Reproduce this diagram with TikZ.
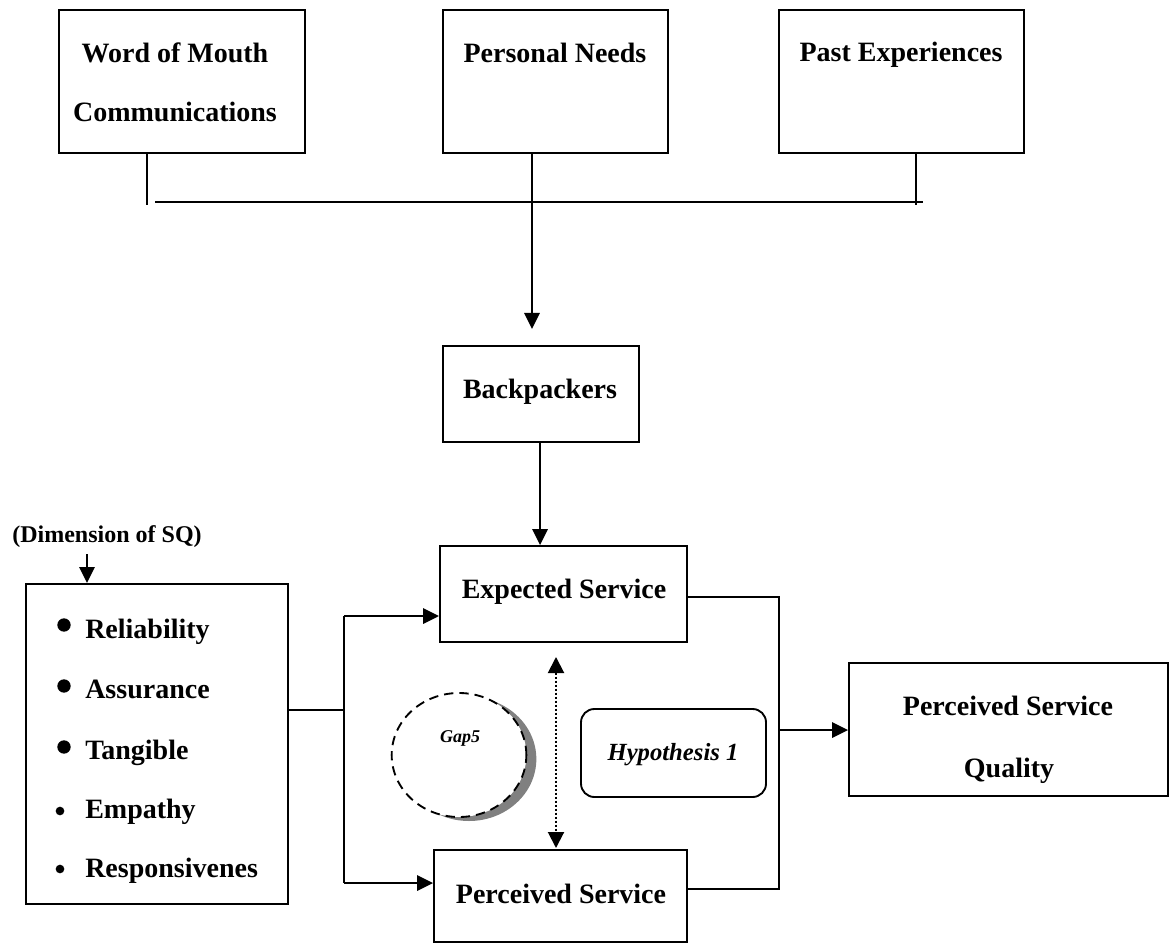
\documentclass[tikz,border=0pt]{standalone}
\usepackage{fontspec}
\setmainfont{Liberation Serif}
\usetikzlibrary{fit,shapes.geometric,shadows,arrows.meta}
\begin{document}
\begin{tikzpicture}[x=0.75pt,y=-0.75pt,
  box/.style={draw, line width=1.4pt, inner sep=0pt, rectangle},
  txt/.style={font=\fontsize{21}{25}\selectfont\bfseries, anchor=base, inner sep=0pt},
  itemtxt/.style={font=\fontsize{21}{25}\selectfont\bfseries, anchor=base west, inner sep=0pt},
  thinline/.style={line width=1pt},
  conn/.style={line width=1.6pt},
  arr/.style={line width=1.6pt, -{Triangle[length=12pt,width=11.5pt]}},
  bigdot/.style={circle, fill=black, inner sep=0pt, minimum size=10pt},
  smalldot/.style={circle, fill=black, inner sep=0pt, minimum size=6.5pt},
]
\useasboundingbox (0,0) rectangle (1169,944);

% top boxes
\node[box, fit={(59,10) (305,153)}] (wom) {};
\node[box, fit={(443,10) (668,153)}] (pn) {};
\node[box, fit={(779,10) (1024,153)}] (past) {};
\node[txt] (womt1) at (175,63) {Word of Mouth};
\node[txt] (womt2) at (175,122) {Communications};
\node[txt] (pnt) at (555,63) {Personal Needs};
\node[txt] (pastt) at (901,62) {Past Experiences};

% backpackers
\node[box, fit={(443,346) (639,442)}] (bp) {};
\node[txt] (bpt) at (540,398) {Backpackers};

% expected / perceived
\node[box, fit={(440,546) (687,642)}] (exp) {};
\node[txt] (expt) at (564,598) {Expected Service};
\node[box, fit={(434,850) (687,942)}] (per) {};
\node[txt] (pert) at (561,903) {Perceived Service};

% perceived service quality
\node[box, fit={(849,663) (1168,796)}] (psq) {};
\node[txt] (psqt1) at (1008,715) {Perceived Service};
\node[txt] (psqt2) at (1009,777) {Quality};

% hypothesis
\node[draw, line width=1.4pt, rounded corners=10pt, inner sep=0pt, fit={(581,709) (766,797)}] (hyp) {};
\node[txt, font=\fontsize{18.5}{22}\selectfont\bfseries\itshape] (hypt) at (673,760) {Hypothesis 1};

% gap ellipse
\node[ellipse, draw, dash pattern=on 7pt off 4.5pt, line width=1.4pt, fill=white,
      minimum width=101pt, minimum height=93pt, inner sep=0pt,
      drop shadow={shadow xshift=7.5pt, shadow yshift=-3pt, fill=black!50, opacity=1}] (gap) at (459,755) {};
\node[txt, font=\fontsize{13.5}{16}\selectfont\bfseries\itshape] (gapt) at (460,742) {Gap5};

% dimension box
\node[txt, font=\fontsize{18}{22}\selectfont\bfseries] (diml) at (107,542) {(Dimension of SQ)};
\node[box, fit={(26,584) (288,904)}] (dim) {};
\node[bigdot] (d1) at (64,625) {};
\node[bigdot] (d2) at (64,686) {};
\node[bigdot] (d3) at (64,747) {};
\node[smalldot] (d4) at (60,811) {};
\node[smalldot] (d5) at (60,869) {};
\node[itemtxt] (i1) at (85,638) {Reliability};
\node[itemtxt] (i2) at (85,698) {Assurance};
\node[itemtxt] (i3) at (85,759) {Tangible};
\node[itemtxt] (i4) at (85,818) {Empathy};
\node[itemtxt] (i5) at (85,877) {Responsivenes};

% coordinates
\coordinate (wl) at (147,205);
\coordinate (hl) at (155,202);
\coordinate (hr) at (923,202);
\coordinate (pl) at (916,205);
\coordinate (pntip) at (532,329);
\coordinate (da) at (87,554);
\coordinate (lb) at (344,710);
\coordinate (lt) at (344,616);
\coordinate (lbm) at (344,883);
\coordinate (rt) at (779,597);
\coordinate (rb) at (779,889);
\coordinate (rm) at (779,730);
\coordinate (dt) at (556,657);
\coordinate (db) at (556,848);

% connectors
\draw[thinline] (wl |- wom.south) -- (wl);
\draw[conn] (hl) -- (hr);
\draw[thinline] (pl |- past.south) -- (pl);
\draw[arr] (pntip |- pn.south) -- (pntip);
\draw[arr] (bpt |- bp.south) -- (bpt |- exp.north);
\draw[arr] (da) -- (da |- dim.north);
\draw[thinline] (lb -| dim.east) -- (lb);
\draw[conn] (lt) -- (lbm);
\draw[arr] (lt) -- (lt -| exp.west);
\draw[arr] (lbm) -- (lbm -| per.west);
\draw[thinline] (rt -| exp.east) -- (rt) -- (rb) -- (rb -| per.east);
\draw[arr] (rm) -- (rm -| psq.west);
\draw[line width=1.5pt, dash pattern=on 1.5pt off 1.5pt,
      {Triangle[length=12pt,width=12pt]}-{Triangle[length=12pt,width=12pt]}] (dt) -- (db);
\end{tikzpicture}
\end{document}
